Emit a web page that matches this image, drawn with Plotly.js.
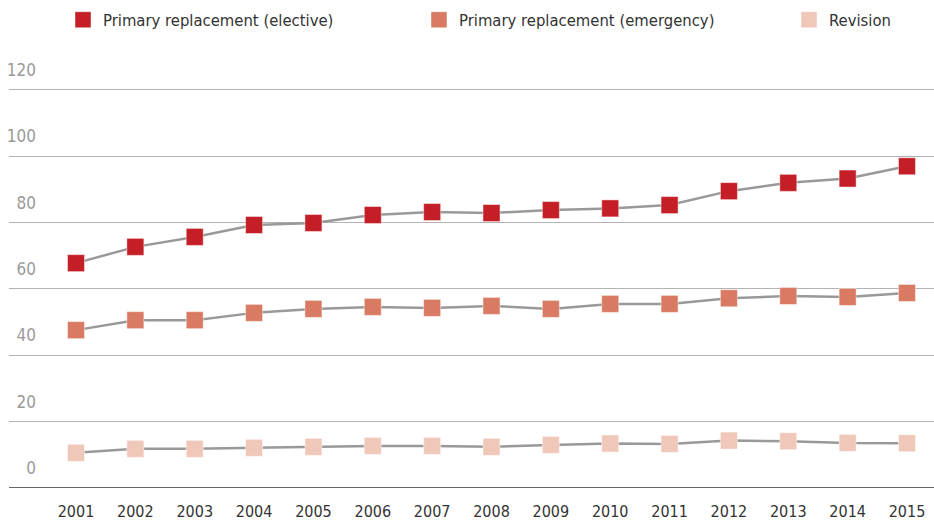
<!DOCTYPE html>
<html>
<head>
<meta charset="utf-8">
<script src="https://cdn.plot.ly/plotly-3.0.1.min.js"></script>
<style>html,body{margin:0;padding:0;background:#fff;}#chart{width:934px;height:524px;}</style>
</head>
<body>
<div id="chart"></div>
<script>
const years = [2001,2002,2003,2004,2005,2006,2007,2008,2009,2010,2011,2012,2013,2014,2015];
const elective = [67.8,72.7,75.7,79.3,79.9,82.3,83.2,82.9,83.8,84.3,85.3,89.5,92.0,93.3,97.0];
const emergency = [47.6,50.6,50.6,52.8,54.0,54.6,54.3,54.9,54.0,55.5,55.5,57.2,57.9,57.6,58.8];
const revision = [10.6,11.8,11.8,12.1,12.4,12.7,12.7,12.4,13.0,13.4,13.3,14.3,14.1,13.6,13.5];
const seriesNames = ['Primary replacement (elective)','Primary replacement (emergency)','Revision'];
const yTicks = [0,20,40,60,80,100,120];

const FONT = '"DejaVu Sans Condensed", "Liberation Sans Narrow", Roboto, sans-serif';
const colors = ['#c41f26','#d97a62','#f0c8b9'];
const data = [elective, emergency, revision];
const legends = ['legend','legend2','legend3'];

const lineTraces = data.map((vals,i)=>({
  x: years, y: vals, name: seriesNames[i], type:'scatter', mode:'lines',
  line:{color:'#999999', width:2.5}, showlegend:false, hoverinfo:'skip'
}));
const markerTraces = data.map((vals,i)=>({
  x: years, y: vals, name: seriesNames[i], type:'scatter', mode:'markers',
  marker:{symbol:'square', size:17, color:colors[i], line:{color:'rgba(255,255,255,0.45)', width:1}},
  legend: legends[i], hoverinfo:'skip'
}));

function leg(xpx){
  return {x:xpx/934, xref:'container', xanchor:'left', y:1-20/524, yref:'container', yanchor:'middle',
    orientation:'h', bgcolor:'rgba(0,0,0,0)', borderwidth:0,
    font:{family:FONT, size:16.5, color:'#333333'}};
}

const layout = {
  width:934, height:524,
  margin:{l:9, r:0, t:85, b:36},
  paper_bgcolor:'#ffffff', plot_bgcolor:'#ffffff',
  showlegend:true,
  legend: leg(63), legend2: leg(419), legend3: leg(789),
  xaxis:{
    range:[1999.871, 2015.455], tickvals:years, ticktext:years.map(String),
    showgrid:false, zeroline:false, showline:false, ticks:'',
    tickfont:{family:FONT, size:16, color:'#333333'}, ticklabelstandoff:12, fixedrange:true
  },
  yaxis:{
    range:[0,121.5], tickvals:yTicks, ticktext:yTicks.map(String),
    showgrid:true, gridcolor:'#b3b3b3', gridwidth:1, zeroline:false, showline:false, ticks:'',
    tickfont:{family:FONT, size:17, color:'#9a9a9a'},
    ticklabelstandoff:-28, ticklabelshift:-20, fixedrange:true
  },
  shapes:[{type:'line', xref:'paper', yref:'y', x0:0, x1:1, y0:0, y1:0, line:{color:'#333333', width:1.5}, layer:'above'}],
  hovermode:false
};

Plotly.newPlot('chart', lineTraces.concat(markerTraces), layout, {displayModeBar:false, staticPlot:true});
</script>
</body>
</html>
